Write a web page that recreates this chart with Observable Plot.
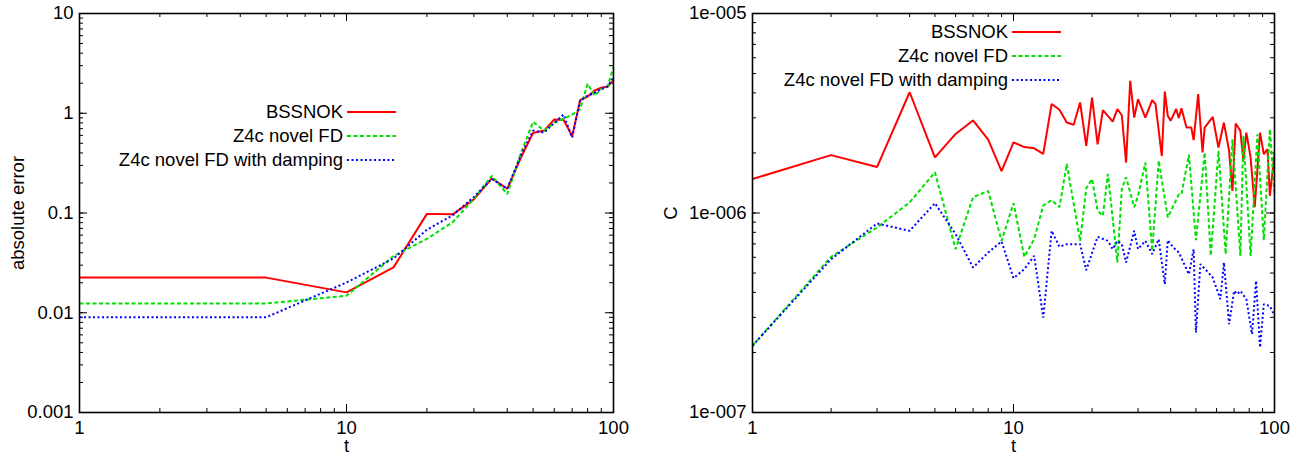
<!DOCTYPE html>
<html>
<head>
<meta charset="utf-8">
<script src="https://cdn.jsdelivr.net/npm/d3@7"></script>
<script src="https://cdn.jsdelivr.net/npm/@observablehq/plot@0.6"></script>
<style>
  html, body { margin: 0; padding: 0; background: #fff; }
  #wrap { display: flex; width: 1307px; height: 461px; }
  svg { display: block; }
</style>
</head>
<body>
<div id="wrap"></div>
<script>
// ---------- data ----------
const seriesNames = ["BSSNOK", "Z4c novel FD", "Z4c novel FD with damping"];
const seriesColors = ["#ff0000", "#00e000", "#0000ff"];
const seriesDash = [null, "4,2.5", "2,2.5"];

const xTicks = [1, 10, 100];
const xTickLabels = ["1", "10", "100"];
const leftYTicks = [0.001, 0.01, 0.1, 1, 10];
const leftYTickLabels = ["0.001", "0.01", "0.1", "1", "10"];
const rightYTicks = [1e-7, 1e-6, 1e-5];
const rightYTickLabels = ["1e-007", "1e-006", "1e-005"];

// left panel: absolute error
const leftT = [1, 5, 10, 15, 20, 25, 30, 35, 40, 45, 50, 55, 60, 65, 70, 75, 80, 85, 90, 95, 100];
const leftBssnok = [0.0225, 0.0225, 0.016, 0.0285, 0.098, 0.097, 0.137, 0.222, 0.175, 0.36, 0.635, 0.67, 0.867, 0.86, 0.59, 1.35, 1.47, 1.69, 1.8, 1.85, 2.15];
const leftZ4c = [0.0124, 0.0124, 0.0148, 0.037, 0.055, 0.081, 0.139, 0.236, 0.155, 0.4, 0.82, 0.67, 0.8, 0.88, 0.97, 1.1, 1.97, 1.5, 1.75, 1.85, 2.9];
const leftZ4cDamp = [0.009, 0.009, 0.0201, 0.035, 0.068, 0.095, 0.145, 0.22, 0.175, 0.38, 0.67, 0.64, 0.8, 0.97, 0.57, 1.35, 1.5, 1.6, 1.75, 1.85, 2.3];

// right panel: C
const rightBssnokT = [1,2,3,4,5,6,7,8,9,10,11,12,13,14,15,16,17,18,19,20,21,22,24,25,26,27,28,29,30,32,34,35,37,38,39,40,42,43,44,46,48,49,51,53,54,58,61,64,67,69,71,74,76,78,81,84,88,91,94,96,100];
const rightBssnokC = [1.48e-6,1.95e-6,1.7e-6,4.03e-6,1.9e-6,2.49e-6,2.91e-6,2.33e-6,1.62e-6,2.26e-6,2.14e-6,2.11e-6,1.98e-6,3.52e-6,3.29e-6,2.84e-6,2.77e-6,3.58e-6,2.17e-6,3.79e-6,2.21e-6,3.28e-6,
  2.87e-6,3.32e-6,3.09e-6,1.79e-6,4.6e-6,3.01e-6,3.72e-6,
  3.01e-6,3.68e-6,3.51e-6,1.93e-6,4.06e-6,3.07e-6,2.9e-6,
  3.32e-6,2.99e-6,3.35e-6,2.68e-6,2.68e-6,2.32e-6,
  3.94e-6,2.01e-6,2.68e-6,3.03e-6,2.13e-6,2.84e-6,2.05e-6,1.29e-6,
  2.81e-6,2.58e-6,1.83e-6,2.53e-6,1.9e-6,1.07e-6,2.53e-6,1.97e-6,2.09e-6,1.22e-6,1.97e-6];

const rightZ4cT = [1,2,3,4,5,6,7,8,9,10,11,12,13,14,15,16,18,19,20,21,22,23,25,26,27,29,30,32,34,36,39,43,44,47,50,54,57,61,65,69,74,76,81,86,91,96,100];
const rightZ4cC = [2.16e-7,6.03e-7,8.46e-7,1.13e-6,1.6e-6,6.59e-7,1.2e-6,1.29e-6,7.25e-7,1.12e-6,6.03e-7,7.39e-7,1.09e-6,1.16e-6,1.07e-6,1.76e-6,
  7.25e-7,1.33e-6,1.48e-6,1.03e-6,9.68e-7,1.57e-6,
  5.65e-7,1.32e-6,1.51e-6,1.07e-6,1.22e-6,1.79e-6,6.46e-7,1.83e-6,9.5e-7,
  1.24e-6,1.24e-6,1.96e-6,7.31e-7,2.01e-6,6.1e-7,2.05e-6,6.22e-7,2.34e-6,6.1e-7,2.44e-6,6.1e-7,2.48e-6,7.31e-7,2.63e-6,1.24e-6];

const rightZ4cDampT = [1,2,3,4,5,6,7,8,9,10,11,12,13,14,15,16,18,19,21,23,24,25,26,27,29,30,32,34,36,38,39,41,43,47,49,50,52,55,58,62,64,67,70,72,74,78,82,85,88,91,96,100];
const rightZ4cDampC = [2.16e-7,5.87e-7,8.86e-7,8.14e-7,1.12e-6,7.83e-7,5.33e-7,6.34e-7,7.2e-7,4.71e-7,5.23e-7,6.1e-7,2.99e-7,8.14e-7,6.77e-7,6.98e-7,
  6.98e-7,5.17e-7,7.6e-7,7.25e-7,6.59e-7,7.25e-7,6.98e-7,5.65e-7,8.14e-7,6.59e-7,
  7.25e-7,6.22e-7,7.39e-7,4.4e-7,7.31e-7,6.71e-7,6.34e-7,4.93e-7,6.59e-7,2.52e-7,
  5.54e-7,5.13e-7,4.75e-7,3.7e-7,5.65e-7,2.77e-7,4.07e-7,3.92e-7,4.07e-7,3.7e-7,
  2.47e-7,4.57e-7,2.12e-7,3.49e-7,3.42e-7,3.05e-7];

// ---------- drawing ----------
const zip = (ts, vs) => ts.map((t, i) => ({t, v: vs[i]}));
const FONT = "'Liberation Sans', Arial, Helvetica, sans-serif";
const FS = 18.5;

function panel(opts) {
  const {width, height, mL, mR, mT, mB, yDomain, yTicks, yTickLabels, yLabel, yLabelDx, series, legend} = opts;
  const fw = width - mL - mR, fh = height - mT - mB;
  const xMinor = d3.scaleLog().domain([1, 100]).ticks();
  const yMinor = d3.scaleLog().domain(yDomain).ticks();
  const tickLen = 8, minorLen = 4;
  const tickMarks = (vals, len) => [
    Plot.ruleX(vals, {x: d => d, insetTop: fh - len, stroke: "black", strokeWidth: 1}),
    Plot.ruleX(vals, {x: d => d, insetBottom: fh - len, stroke: "black", strokeWidth: 1}),
  ];
  const tickMarksY = (vals, len) => [
    Plot.ruleY(vals, {y: d => d, insetRight: fw - len, stroke: "black", strokeWidth: 1}),
    Plot.ruleY(vals, {y: d => d, insetLeft: fw - len, stroke: "black", strokeWidth: 1}),
  ];
  const svg = Plot.plot({
    width, height,
    marginLeft: mL, marginRight: mR, marginTop: mT, marginBottom: mB,
    style: {fontFamily: FONT, fontSize: FS + "px", color: "#000", background: "#fff"},
    x: {type: "log", domain: [1, 100]},
    y: {type: "log", domain: yDomain},
    marks: [
      ...tickMarks(xMinor, minorLen),
      ...tickMarks(xTicks, tickLen),
      ...tickMarksY(yMinor, minorLen),
      ...tickMarksY(yTicks, tickLen),
      Plot.axisX({ticks: xTicks, tickSize: 0, tickPadding: 8, label: null,
        tickFormat: d => xTickLabels[xTicks.indexOf(d)], fontSize: FS, fill: "#000"}),
      Plot.axisY({ticks: yTicks, tickSize: 0, tickPadding: 6, label: null,
        tickFormat: d => yTickLabels[yTicks.indexOf(d)], fontSize: FS, fill: "#000"}),
      ...series.map((s, i) => Plot.line(s, {x: "t", y: "v", stroke: seriesColors[i], strokeWidth: 2,
        strokeDasharray: seriesDash[i], strokeLinecap: "butt", strokeLinejoin: "miter", clip: true})),
      Plot.frame({stroke: "black", strokeWidth: 1.6}),
      Plot.text(["t"], {text: d => d, frameAnchor: "bottom", dy: 34, fontSize: FS, fill: "#000", lineAnchor: "middle"}),
      Plot.text([yLabel], {text: d => d, frameAnchor: "left", dx: yLabelDx, rotate: -90, fontSize: FS, fill: "#000", textAnchor: "middle", lineAnchor: "middle"}),
    ]
  });
  // legend (inside plot, gnuplot style)
  const g = d3.select(svg).append("g").attr("font-family", FONT).attr("font-size", FS);
  seriesNames.forEach((name, i) => {
    const y = legend.y0 + i * legend.dy;
    g.append("text").attr("x", legend.textRight).attr("y", y).attr("dy", "0.35em")
      .attr("text-anchor", "end").attr("fill", "#000").text(name);
    g.append("line").attr("x1", legend.lineX1).attr("x2", legend.lineX2).attr("y1", y).attr("y2", y)
      .attr("stroke", seriesColors[i]).attr("stroke-width", 2)
      .attr("stroke-dasharray", seriesDash[i]);
  });
  return svg;
}

const wrap = document.getElementById("wrap");
wrap.appendChild(panel({
  width: 653, height: 461, mL: 79, mR: 40, mT: 13, mB: 49,
  yDomain: [0.001, 10], yTicks: leftYTicks, yTickLabels: leftYTickLabels,
  yLabel: "absolute error", yLabelDx: -61,
  series: [zip(leftT, leftBssnok), zip(leftT, leftZ4c), zip(leftT, leftZ4cDamp)],
  legend: {y0: 112, dy: 24, textRight: 343, lineX1: 347, lineX2: 396}
}));
wrap.appendChild(panel({
  width: 654, height: 461, mL: 99, mR: 33, mT: 13, mB: 49,
  yDomain: [1e-7, 1e-5], yTicks: rightYTicks, yTickLabels: rightYTickLabels,
  yLabel: "C", yLabelDx: -81,
  series: [zip(rightBssnokT, rightBssnokC), zip(rightZ4cT, rightZ4cC), zip(rightZ4cDampT, rightZ4cDampC)],
  legend: {y0: 32, dy: 24, textRight: 355, lineX1: 359, lineX2: 408}
}));
</script>
</body>
</html>
